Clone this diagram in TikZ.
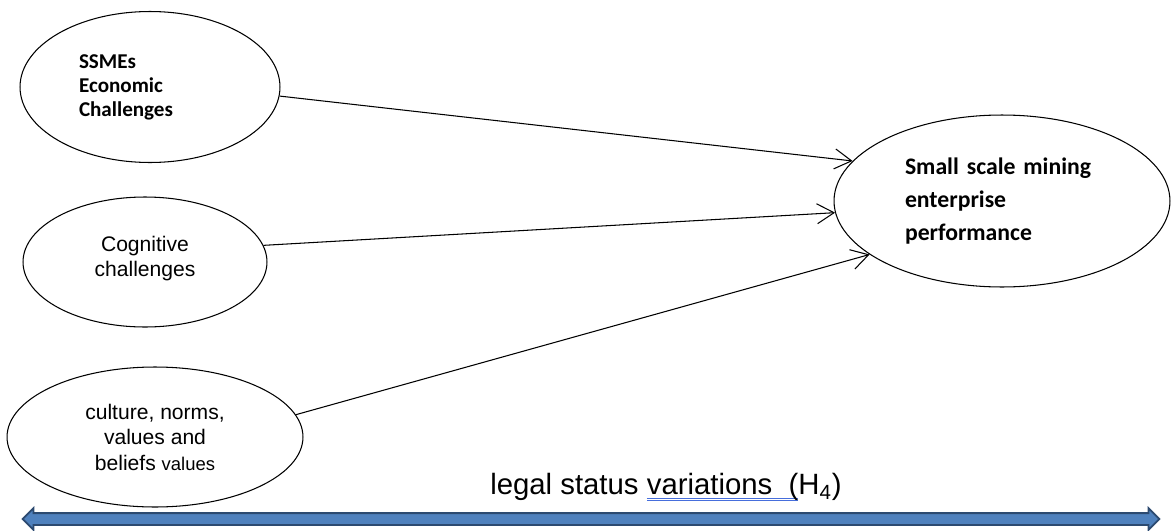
\documentclass[tikz,border=0pt]{standalone}
\usepackage{fontspec}
\setmainfont{Liberation Sans}
\newfontfamily\calibri{Carlito}
\usetikzlibrary{shapes.geometric}
\usetikzlibrary{shapes.arrows}
\usetikzlibrary{arrows.meta}
\definecolor{axis-blue}{RGB}{79, 129, 189}
\definecolor{axis-edge}{RGB}{44, 74, 112}
\definecolor{spell-blue}{RGB}{70, 110, 220}
% double blue mark under a word
\newcommand{\spellmark}[1]{\leavevmode\setbox0\hbox{#1}%
    \rlap{\color{spell-blue}\raisebox{-2.2pt}{\rule{\wd0}{0.45pt}}}%
    \rlap{\color{spell-blue}\raisebox{-3.6pt}{\rule{\wd0}{0.45pt}}}\box0}

\begin{document}
\begin{tikzpicture}[x=0.02cm, y=-0.02cm,
        factor/.style={ellipse, draw=black, line width=0.6pt, inner sep=0pt},
        link/.style={-{Straight Barb[length=3.4mm, width=4mm]}, line width=0.6pt}]
                \useasboundingbox (0, 0) rectangle (1171, 531);
                \node[factor, minimum width=5.2cm, minimum height=3.02cm, text width=2.84cm, align=left, font=\calibri\bfseries\fontsize{12}{13.6}\selectfont] (econ) at (150, 87) {SSMEs\\ Economic\\ Challenges};
                \node[factor, minimum width=4.88cm, minimum height=2.6cm, align=center, font=\fontsize{12}{14.5}\selectfont] (cog) at (145, 262) {Cognitive\\ challenges\\[-8pt]};
                \node[factor, minimum width=5.92cm, minimum height=2.8cm, align=center, font=\fontsize{12}{14.5}\selectfont] (culture) at (155, 437) {culture, norms,\\ values and\\ beliefs {\fontsize{10.5}{14.5}\selectfont values}};
                \node[factor, minimum width=6.72cm, minimum height=3.44cm, text width=3.88cm, align=left, font=\calibri\bfseries\fontsize{13.5}{19}\selectfont] (perf) at (1002, 201) {Small scale mining\\ enterprise\\ performance};
                \draw[link] (econ.-4) -- (perf.165);
                \draw[link] (cog.8) -- (perf.184);
                \draw[link] (culture.9) -- (perf.202);
                % moderator
                \node[font=\fontsize{16.7}{19}\selectfont] (legal) at (666, 487) {legal status \spellmark{variations\ \ (}H\textsubscript{4})};
                \node[double arrow, draw=axis-edge, fill=axis-blue, line width=1pt, minimum height=22.74cm, minimum width=0.4cm, inner sep=0.1cm, double arrow head extend=0.1cm] (axis) at (591, 519) {};
            \end{tikzpicture}
\end{document}
